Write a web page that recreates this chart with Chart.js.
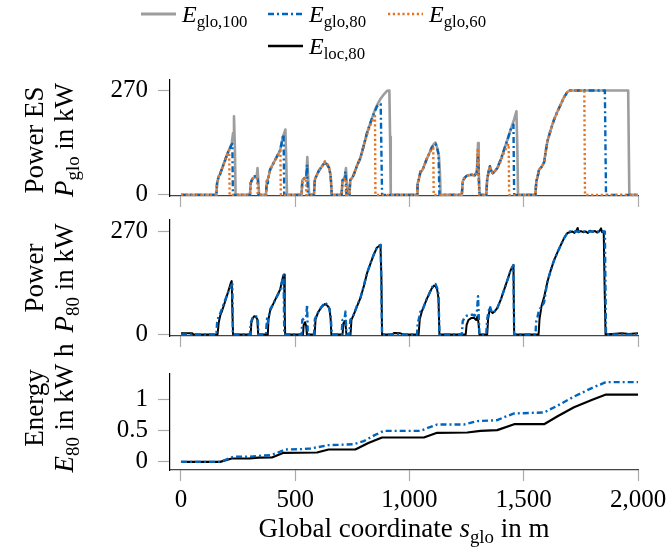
<!DOCTYPE html>
<html>
<head>
<meta charset="utf-8">
<script src="https://cdn.jsdelivr.net/npm/chart.js@4.4.1/dist/chart.umd.min.js"></script>
<style>
  html, body { margin: 0; padding: 0; background: #fff; }
  #wrap { position: relative; width: 668px; height: 549px; }
  .pane { position: absolute; left: 0; width: 668px; }
  canvas { display: block; }
</style>
</head>
<body>
<div id="wrap">
  <div class="pane" style="top:0px"><canvas id="c1" width="668" height="210"></canvas></div>
  <div class="pane" style="top:210px"><canvas id="c2" width="668" height="140"></canvas></div>
  <div class="pane" style="top:330px"><canvas id="c3" width="668" height="219"></canvas></div>
</div>
<script>
// tick values
const xTicks = [0, 500, 1000, 1500, 2000];
const pTicks = [0, 270];
const eTicks = [0, 0.5, 1];

// power, global optimisation, 100 % (s in m, P in kW)
const glo100 = [[0,0],[155,0],[158,30],[165,48],[170,52],[178,65],[192,88],[207,112],[222,132],[228,160],[232,203],[236,120],[239,0],
  [302,0],[305,30],[314,43],[322,45],[331,45],[335,69],[338,40],[342,0],
  [372,0],[376,35],[383,45],[390,65],[410,88],[434,115],[446,150],[457,169],[461,80],[464,0],
  [528,0],[531,38],[540,43],[548,45],[553,98],[557,40],[561,0],
  [582,0],[586,40],[595,52],[603,62],[615,72],[630,84],[640,78],[648,70],[655,50],[660,0],
  [703,0],[707,38],[716,42],[722,69],[726,30],[730,0],
  [737,0],[741,38],[750,45],[756,52],[770,75],[785,95],[800,128],[814,160],[830,188],[844,212],[858,232],[873,248],[888,260],[902,269],[912,270],[915,150],[918,0],
  [1033,0],[1036,30],[1041,40],[1048,60],[1055,62],[1062,72],[1075,92],[1085,105],[1097,122],[1107,132],[1114,135],[1121,122],[1129,100],[1133,60],[1136,0],
  [1229,0],[1233,35],[1241,44],[1250,49],[1262,51],[1275,52],[1285,49],[1295,60],[1300,134],[1303,60],[1307,0],
  [1336,0],[1340,40],[1346,60],[1352,74],[1358,62],[1364,56],[1372,60],[1384,69],[1400,92],[1414,117],[1430,145],[1443,169],[1458,195],[1468,216],[1472,120],[1475,0],
  [1551,0],[1555,35],[1560,45],[1567,65],[1578,72],[1589,84],[1597,115],[1604,139],[1618,168],[1633,195],[1648,216],[1662,234],[1676,252],[1691,266],[1702,270],[1957,270],[1962,0],[2000,0]];

// power, global optimisation, 80 %
const glo80 = [[0,0],[155,0],[158,30],[165,48],[170,52],[178,65],[192,88],[207,112],[222,130],[225,132],[227,0],
  [302,0],[305,30],[314,45],[322,48],[331,47],[336,46],[339,0],
  [372,0],[374,20],[377,42],[380,30],[383,45],[390,65],[410,88],[434,115],[446,150],[449,156],[452,0],
  [528,0],[531,38],[540,43],[548,45],[552,78],[555,0],
  [582,0],[586,40],[595,52],[603,62],[615,72],[630,84],[640,78],[648,70],[655,50],[660,0],
  [703,0],[707,38],[716,42],[720,60],[724,0],
  [737,0],[741,38],[750,45],[756,52],[770,75],[785,95],[800,128],[814,160],[830,188],[844,210],[858,229],[870,234],[874,235],[880,0],
  [1033,0],[1036,30],[1041,40],[1048,60],[1055,62],[1062,72],[1075,92],[1085,105],[1097,122],[1107,130],[1114,132],[1121,122],[1127,105],[1131,0],
  [1229,0],[1233,35],[1241,44],[1250,49],[1262,51],[1275,52],[1285,49],[1295,60],[1300,100],[1303,50],[1306,0],
  [1336,0],[1340,40],[1346,60],[1352,74],[1358,62],[1364,56],[1372,60],[1384,69],[1400,92],[1414,117],[1430,145],[1443,169],[1455,182],[1458,0],
  [1551,0],[1555,35],[1560,45],[1567,65],[1578,72],[1589,84],[1597,115],[1604,139],[1618,168],[1633,195],[1648,216],[1662,234],[1676,252],[1691,266],[1702,270],[1855,270],[1860,0],[2000,0]];

// power, global optimisation, 60 %
const glo60 = [[0,0],[155,0],[158,30],[165,48],[170,52],[178,65],[192,88],[207,112],[211,116],[213,0],
  [302,0],[305,30],[314,42],[322,44],[331,43],[334,40],[336,0],
  [372,0],[376,35],[383,45],[390,65],[410,88],[430,110],[435,114],[437,0],
  [528,0],[531,38],[540,43],[546,44],[549,0],
  [582,0],[586,40],[595,52],[603,62],[615,72],[630,87],[640,80],[648,70],[655,50],[660,0],
  [703,0],[707,38],[716,42],[720,44],[722,0],
  [737,0],[741,38],[750,45],[756,52],[770,75],[785,95],[800,126],[814,156],[830,182],[845,200],[849,204],[851,0],
  [1033,0],[1036,30],[1041,40],[1048,60],[1055,62],[1062,72],[1075,92],[1085,105],[1097,118],[1104,122],[1106,0],
  [1229,0],[1233,35],[1241,44],[1250,49],[1262,51],[1275,52],[1285,49],[1295,60],[1299,121],[1302,50],[1305,0],
  [1336,0],[1340,40],[1346,60],[1352,74],[1358,62],[1364,56],[1372,60],[1384,68],[1400,88],[1414,110],[1430,128],[1434,132],[1436,0],
  [1551,0],[1555,35],[1560,45],[1567,65],[1578,72],[1589,84],[1597,115],[1604,139],[1618,168],[1633,195],[1648,216],[1662,234],[1676,252],[1691,266],[1702,270],[1765,270],[1768,0],[2000,0]];

// power, local control, 80 %
const loc80 = [[0,3],[50,3],[54,0],[160,0],[165,30],[172,50],[180,62],[195,90],[208,115],[218,135],[222,140],[225,60],[228,0],
  [305,0],[308,30],[314,42],[320,48],[328,46],[334,40],[338,0],
  [380,0],[383,40],[390,62],[410,88],[434,118],[446,150],[451,157],[454,60],[456,0],
  [534,0],[537,25],[543,32],[548,22],[551,0],
  [585,0],[589,40],[600,58],[615,72],[630,80],[640,76],[650,68],[655,40],[658,0],
  [707,0],[711,30],[719,36],[724,0],
  [742,0],[746,38],[756,52],[770,73],[785,95],[800,126],[814,160],[830,187],[844,210],[858,228],[873,234],[877,150],[880,0],[925,0],[932,4],[960,3],[975,0],
  [1040,0],[1045,40],[1055,62],[1062,72],[1075,92],[1085,105],[1097,120],[1107,128],[1114,126],[1121,118],[1127,95],[1131,0],
  [1246,0],[1250,25],[1258,38],[1270,43],[1282,44],[1292,38],[1298,48],[1302,30],[1306,0],
  [1340,0],[1344,40],[1352,70],[1358,60],[1364,56],[1372,60],[1384,69],[1400,92],[1414,117],[1430,145],[1443,169],[1455,182],[1458,0],
  [1565,0],[1569,40],[1578,75],[1590,100],[1604,139],[1618,168],[1633,195],[1648,216],[1662,234],[1676,252],[1691,266],[1702,268],[1712,270],[1722,266],[1730,272],[1736,279],[1740,268],[1750,271],[1760,268],[1772,270],[1780,266],[1790,272],[1800,269],[1812,271],[1822,267],[1830,270],[1838,278],[1843,268],[1850,270],[1854,120],[1858,0],[1900,2],[1930,3],[1960,1],[2000,3]];

// energy in kWh
const eGlo80 = [[0,0],[171,0],[200,0.04],[230,0.08],[300,0.082],[340,0.095],[390,0.106],[420,0.14],[456,0.197],[530,0.203],[566,0.213],[600,0.235],[646,0.266],[700,0.272],[756,0.282],[800,0.33],[850,0.43],[888,0.494],[1048,0.494],[1080,0.54],[1121,0.595],[1238,0.595],[1297,0.649],[1384,0.665],[1420,0.72],[1458,0.771],[1589,0.787],[1650,0.9],[1720,1.04],[1800,1.18],[1860,1.271],[2000,1.271]];
const eLoc80 = [[0,0],[171,0],[222,0.053],[300,0.056],[340,0.066],[398,0.069],[449,0.144],[595,0.149],[646,0.197],[763,0.197],[820,0.3],[880,0.388],[1063,0.388],[1121,0.463],[1253,0.468],[1311,0.494],[1384,0.505],[1458,0.6],[1589,0.6],[1650,0.73],[1720,0.87],[1800,0.99],[1860,1.072],[2000,1.072]];

const serif = '"Liberation Serif", "Times New Roman", serif';
const FS = 24;   // legend
const TS = 27;   // axis titles
const cGrey = '#9d9d9d', cBlue = '#0065bd', cOrange = '#e37222', cBlack = '#000';
const dashBlue = [6, 3, 2, 3], dashOrange = [2.2, 2.6];

function partFont(p, size) {
  return (p.i ? 'italic ' : '') + (p.s ? size * 0.7 : size) + 'px ' + serif;
}
function richWidth(ctx, parts, size) {
  let w = 0;
  for (const p of parts) { ctx.font = partFont(p, size); w += ctx.measureText(p.t).width; }
  return w;
}
function drawRich(ctx, parts, x, y, size, center) {
  let cx = center ? x - richWidth(ctx, parts, size) / 2 : x;
  ctx.textAlign = 'left';
  ctx.textBaseline = 'alphabetic';
  for (const p of parts) {
    ctx.font = partFont(p, size);
    ctx.fillText(p.t, cx, y + (p.s ? size * 0.22 : 0));
    cx += ctx.measureText(p.t).width;
  }
}

// draws the axis titles and the legend (rich text with subscripts)
const panelText = {
  id: 'panelText',
  afterDraw(chart, args, opts) {
    const ctx = chart.ctx;
    ctx.save();
    ctx.fillStyle = '#000';
    (opts.rot || []).forEach(l => {
      ctx.save();
      ctx.translate(l.x, l.y);
      ctx.rotate(-Math.PI / 2);
      drawRich(ctx, l.parts, 0, 0, TS, true);
      ctx.restore();
    });
    (opts.flat || []).forEach(l => drawRich(ctx, l.parts, l.x, l.y, TS, l.center));
    (opts.keys || []).forEach(k => {
      ctx.beginPath();
      ctx.strokeStyle = k.color;
      ctx.lineWidth = k.w;
      ctx.setLineDash(k.dash);
      ctx.moveTo(k.x, k.y);
      ctx.lineTo(k.x + 35, k.y);
      ctx.stroke();
      ctx.setLineDash([]);
      drawRich(ctx, k.parts, k.x + 41, k.y + 8, FS, false);
    });
    ctx.restore();
  }
};

const toXY = arr => arr.map(([x, y]) => ({ x, y }));
function line(label, data, color, width, dash, order) {
  return { label, data: toXY(data), borderColor: color, borderWidth: width, borderDash: dash,
    pointRadius: 0, tension: 0, fill: false, order, borderJoinStyle: 'round' };
}

const tickFont = { family: serif, size: 25 };

function xScale(h, labels) {
  return {
    type: 'linear', min: -48, max: 2000,
    border: { color: '#444', width: 1.2 },
    grid: { drawOnChartArea: false, drawTicks: true, tickLength: 11, tickColor: '#aaa', tickWidth: 1.2 },
    ticks: { display: labels, font: tickFont, color: '#000', padding: 4, maxRotation: 0,
      callback: v => v.toLocaleString('en-US') },
    afterBuildTicks: s => { s.ticks = xTicks.map(v => ({ value: v })); },
    afterFit: s => { s.height = h; s.paddingLeft = 0; s.paddingRight = 0; }
  };
}
function yScale(min, max, ticks) {
  return {
    type: 'linear', min, max,
    border: { color: '#000', width: 1.2 },
    grid: { drawOnChartArea: false, drawTicks: true, tickLength: 12, tickColor: '#aaa', tickWidth: 1.2 },
    ticks: { font: tickFont, color: '#000', padding: 10, callback: v => String(v) },
    afterBuildTicks: s => { s.ticks = ticks.map(v => ({ value: v })); },
    afterFit: s => { s.width = 60; s.paddingTop = 0; s.paddingBottom = 0; }
  };
}
function options(pad, xh, labels, ymin, ymax, yt, text) {
  return {
    responsive: false, animation: false,
    layout: { padding: pad, autoPadding: false },
    plugins: { legend: { display: false }, tooltip: { enabled: false }, panelText: text },
    scales: { x: xScale(xh, labels), y: yScale(ymin, ymax, yt) }
  };
}

new Chart(document.getElementById('c1'), {
  type: 'line',
  data: { datasets: [
    line('E_glo,100', glo100, cGrey, 2.6, [], 3),
    line('E_glo,80', glo80, cBlue, 2.4, dashBlue, 2),
    line('E_glo,60', glo60, cOrange, 2.4, dashOrange, 1)
  ] },
  options: options({ top: 80, left: 110, right: 30, bottom: 0 }, 14, false, -3, 297, pTicks, {
    rot: [
      { x: 43, y: 140, parts: [{ t: 'Power ES' }] },
      { x: 73, y: 140, parts: [{ t: 'P', i: 1 }, { t: 'glo', s: 1 }, { t: ' in kW' }] }
    ],
    keys: [
      { x: 141, y: 14, color: cGrey, w: 2.8, dash: [], parts: [{ t: 'E', i: 1 }, { t: 'glo,100', s: 1 }] },
      { x: 268, y: 14, color: cBlue, w: 2.4, dash: dashBlue, parts: [{ t: 'E', i: 1 }, { t: 'glo,80', s: 1 }] },
      { x: 388, y: 14, color: cOrange, w: 2.4, dash: dashOrange, parts: [{ t: 'E', i: 1 }, { t: 'glo,60', s: 1 }] },
      { x: 268, y: 46, color: cBlack, w: 2.4, dash: [], parts: [{ t: 'E', i: 1 }, { t: 'loc,80', s: 1 }] }
    ]
  }),
  plugins: [panelText]
});

new Chart(document.getElementById('c2'), {
  type: 'line',
  data: { datasets: [
    line('E_glo,80', glo80, cBlue, 2.4, dashBlue, 1),
    line('E_loc,80', loc80, cBlack, 2, [], 2)
  ] },
  options: options({ top: 10, left: 110, right: 30, bottom: 0 }, 14, false, -4, 300, pTicks, {
    rot: [
      { x: 43, y: 68, parts: [{ t: 'Power' }] },
      { x: 73, y: 68, parts: [{ t: 'P', i: 1 }, { t: '80', s: 1 }, { t: ' in kW' }] }
    ]
  }),
  plugins: [panelText]
});

new Chart(document.getElementById('c3'), {
  type: 'line',
  data: { datasets: [
    line('E_glo,80', eGlo80, cBlue, 2.4, dashBlue, 1),
    line('E_loc,80', eLoc80, cBlack, 2.2, [], 2)
  ] },
  options: options({ top: 44, left: 110, right: 30, bottom: 0 }, 79, true, -0.13, 1.40, eTicks, {
    rot: [
      { x: 43, y: 78, parts: [{ t: 'Energy' }] },
      { x: 73, y: 78, parts: [{ t: 'E', i: 1 }, { t: '80', s: 1 }, { t: ' in kW h' }] }
    ],
    flat: [
      { x: 404, y: 207, center: true, parts: [{ t: 'Global coordinate ' }, { t: 's', i: 1 }, { t: 'glo', s: 1 }, { t: ' in m' }] }
    ]
  }),
  plugins: [panelText]
});
</script>
</body>
</html>
